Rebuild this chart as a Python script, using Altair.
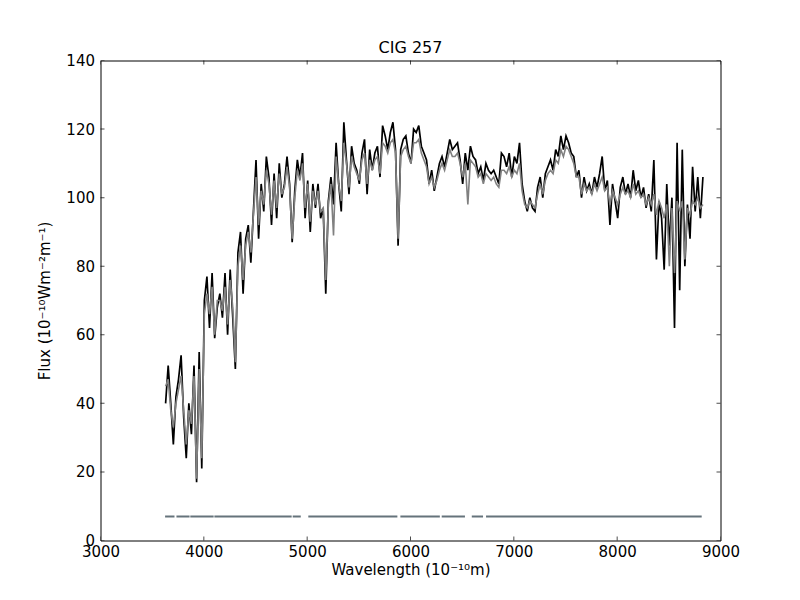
import altair as alt
import pandas as pd

wavelength = [
    3630, 3655, 3680, 3705, 3730, 3755, 3780, 3805, 3830, 3855, 3880, 3905, 3930, 3955, 3980,
    4005, 4030, 4055, 4080, 4105, 4130, 4155, 4180, 4205, 4230, 4255, 4280, 4305, 4330, 4355,
    4380, 4405, 4430, 4455, 4480, 4505, 4530, 4555, 4580, 4605, 4630, 4655, 4680, 4705, 4730,
    4755, 4780, 4805, 4830, 4855, 4880, 4905, 4930, 4955, 4980, 5005, 5030, 5055, 5080, 5105,
    5130, 5155, 5180, 5205, 5230, 5255, 5280, 5305, 5330, 5355, 5380, 5405, 5430, 5455, 5480,
    5505, 5530, 5555, 5580, 5605, 5630, 5655, 5680, 5705, 5730, 5755, 5780, 5805, 5830, 5855,
    5880, 5905, 5930, 5955, 5980, 6005, 6030, 6055, 6080, 6105, 6130, 6155, 6180, 6205, 6230,
    6255, 6280, 6305, 6330, 6355, 6380, 6405, 6430, 6455, 6480, 6505, 6530, 6555, 6580, 6605,
    6630, 6655, 6680, 6705, 6730, 6755, 6780, 6805, 6830, 6855, 6880, 6905, 6930, 6955, 6980,
    7005, 7030, 7055, 7080, 7105, 7130, 7155, 7180, 7205, 7230, 7255, 7280, 7305, 7330, 7355,
    7380, 7405, 7430, 7455, 7480, 7505, 7530, 7555, 7580, 7605, 7630, 7655, 7680, 7705, 7730,
    7755, 7780, 7805, 7830, 7855, 7880, 7905, 7930, 7955, 7980, 8005, 8030, 8055, 8080, 8105,
    8130, 8155, 8180, 8205, 8230, 8255, 8280, 8305, 8330, 8355, 8380, 8405, 8430, 8455, 8480,
    8505, 8530, 8555, 8580, 8605, 8630, 8655, 8680, 8705, 8730, 8755, 8780, 8805, 8830,
]

observed_flux = [
    40, 51, 40, 28, 42, 47, 54, 36, 24, 40, 31, 51, 17, 55, 21,
    70, 77, 62, 78, 59, 68, 72, 65, 78, 60, 79, 65, 50, 84, 90,
    72, 88, 92, 81, 96, 111, 88, 104, 96, 112, 106, 92, 107, 94, 110,
    100, 104, 112, 104, 87, 102, 111, 106, 113, 94, 105, 90, 104, 97, 104,
    94, 97, 72, 99, 106, 98, 116, 104, 96, 122, 111, 101, 115, 110, 108,
    104, 113, 117, 101, 114, 108, 113, 115, 106, 121, 118, 114, 119, 122, 114,
    86, 114, 117, 118, 113, 110, 120, 119, 121, 115, 113, 111, 104, 108, 102,
    106, 110, 112, 109, 113, 117, 114, 115, 116, 111, 104, 113, 108, 115, 112,
    111, 107, 109, 105, 110, 108, 107, 108, 106, 104, 113, 112, 109, 113, 106,
    112, 110, 116, 104, 99, 96, 100, 97, 96, 103, 106, 100, 107, 109, 111,
    108, 114, 112, 118, 114, 118, 116, 113, 112, 106, 108, 100, 106, 102, 104,
    101, 106, 103, 107, 112, 102, 105, 92, 104, 99, 94, 103, 106, 101, 104,
    100, 108, 102, 105, 100, 103, 97, 101, 96, 111, 82, 99, 94, 79, 104,
    86, 100, 62, 116, 73, 114, 80, 98, 88, 109, 96, 106, 94, 106,
]

model_flux = [
    45, 47, 38, 33, 40, 44, 48, 38, 28, 38, 34, 48, 18, 50, 24,
    66, 72, 66, 74, 60, 70, 70, 67, 74, 63, 76, 68, 52, 80, 86,
    76, 86, 90, 84, 95, 106, 92, 102, 98, 108, 104, 95, 105, 97, 107,
    101, 103, 109, 103, 88, 100, 108, 105, 110, 97, 104, 93, 102, 98, 102,
    96, 97, 76, 98, 104, 89, 112, 104, 99, 116, 110, 103, 112, 109, 107,
    105, 111, 113, 104, 111, 108, 111, 112, 107, 116, 115, 113, 116, 117, 113,
    88, 112, 114, 115, 112, 110, 116, 116, 117, 113, 111, 109, 104, 106, 103,
    105, 108, 110, 108, 111, 114, 112, 112, 113, 110, 106, 110, 98, 111, 110,
    109, 106, 107, 104, 107, 106, 105, 106, 104, 103, 108, 108, 107, 109, 106,
    108, 107, 110, 102, 98, 97, 99, 98, 97, 101, 104, 101, 105, 107, 108,
    107, 111, 110, 114, 112, 115, 114, 112, 110, 106, 106, 101, 104, 102, 103,
    101, 104, 102, 104, 106, 102, 103, 98, 102, 100, 98, 101, 103, 101, 102,
    100, 104, 101, 102, 100, 101, 98, 100, 98, 101, 95, 99, 97, 94, 98,
    80, 97, 78, 99, 96, 99, 82, 97, 95, 99, 98, 100, 97, 98,
]

mask_start = [3625, 3735, 3869, 4102, 4860, 5011, 5902, 6302, 6593, 6731]
mask_end = [3716, 3862, 4095, 4850, 4938, 5873, 6284, 6527, 6702, 8818]
mask_level = 7

x_ticks = [3000, 4000, 5000, 6000, 7000, 8000, 9000]
y_ticks = [0, 20, 40, 60, 80, 100, 120, 140]

assert len(wavelength) == len(observed_flux) == len(model_flux)

spec = pd.DataFrame({"w": wavelength, "obs": observed_flux, "mod": model_flux})
mask = pd.DataFrame({"s": mask_start, "e": mask_end, "y": [mask_level] * len(mask_start)})

FONT = "DejaVu Sans"
xscale = alt.Scale(domain=[3000, 9000], nice=False, zero=False)
yscale = alt.Scale(domain=[0, 140], nice=False, zero=False)

xaxis = alt.Axis(
    values=x_ticks, format="d", ticks=False, domain=False, grid=False,
    labelFontSize=15, labelFont=FONT, labelColor="black", labelPadding=4,
    title="Wavelength (10⁻¹⁰m)", titleFontSize=15, titleFont=FONT,
    titleFontWeight="normal", titleColor="black", titlePadding=3,
    labelFlush=False, labelOverlap=False,
)
yaxis = alt.Axis(
    values=y_ticks, format="d", ticks=False, domain=False, grid=False,
    labelFontSize=15, labelFont=FONT, labelColor="black", labelPadding=6,
    title="Flux (10⁻¹⁰Wm⁻²m⁻¹)", titleFontSize=15, titleFont=FONT,
    titleFontWeight="normal", titleColor="black", titlePadding=13,
    labelFlush=False, labelOverlap=False,
)

base = alt.Chart(spec)

obs_line = base.mark_line(color="black", strokeWidth=1.7, clip=True).encode(
    x=alt.X("w:Q", scale=xscale, axis=xaxis),
    y=alt.Y("obs:Q", scale=yscale, axis=yaxis),
)
mod_line = base.mark_line(color="#808080", strokeWidth=1.6, clip=True).encode(
    x=alt.X("w:Q", scale=xscale),
    y=alt.Y("mod:Q", scale=yscale),
)
mask_rules = alt.Chart(mask).mark_rule(color="#65737b", strokeWidth=2).encode(
    x=alt.X("s:Q", scale=xscale),
    x2="e:Q",
    y=alt.Y("y:Q", scale=yscale),
)

xt = pd.DataFrame({"t": x_ticks * 2, "edge": [0] * len(x_ticks) + [140] * len(x_ticks)})
yt = pd.DataFrame({"t": y_ticks * 2, "edge": [3000] * len(y_ticks) + [9000] * len(y_ticks)})

xtick_marks = alt.Chart(xt).mark_tick(orient="vertical", color="black", size=8, thickness=1, clip=True).encode(
    x=alt.X("t:Q", scale=xscale), y=alt.Y("edge:Q", scale=yscale)
)
ytick_marks = alt.Chart(yt).mark_tick(orient="horizontal", color="black", size=8, thickness=1, clip=True).encode(
    x=alt.X("edge:Q", scale=xscale), y=alt.Y("t:Q", scale=yscale)
)

chart = alt.layer(obs_line, mod_line, mask_rules, xtick_marks, ytick_marks).properties(
    width=620,
    height=480,
    background="white",
    title=alt.TitleParams("CIG 257", fontSize=16, font=FONT, fontWeight="normal",
                          color="black", offset=-2, anchor="middle"),
    autosize=alt.AutoSizeParams(type="none"),
    padding={"left": 92.5, "top": 52.5, "right": 71.5, "bottom": 51.5},
).configure_view(stroke="#000000", strokeWidth=1, strokeOpacity=1)

chart.save("out.html", embed_options={"renderer": "svg", "actions": False})
